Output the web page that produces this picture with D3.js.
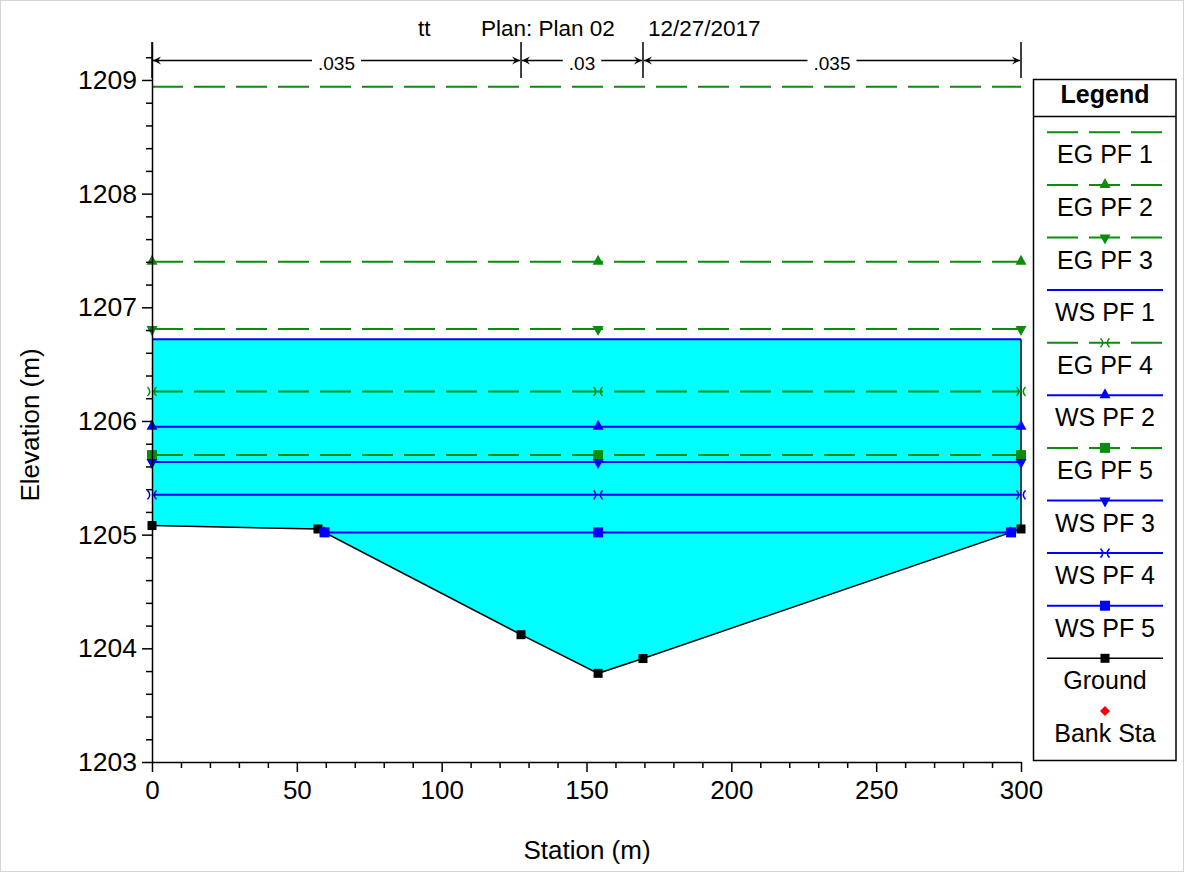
<!DOCTYPE html>
<html>
<head>
<meta charset="utf-8">
<script src="https://cdn.jsdelivr.net/npm/d3@7"></script>
<style>
  body { margin: 0; background: #fff; }
  svg text { font-family: Arial, "Liberation Sans", sans-serif; fill: #000; }
</style>
</head>
<body>
<div id="plotDiv"></div>
<script>
// chart data
const titleParts = ['tt', 'Plan: Plan 02', '12/27/2017'];
const profileNames = ['EG PF 1', 'EG PF 2', 'EG PF 3', 'WS PF 1', 'EG PF 4',
  'WS PF 2', 'EG PF 5', 'WS PF 3', 'WS PF 4', 'WS PF 5'];
const profileElev = [1208.94, 1207.40, 1206.81, 1206.72, 1206.26,
  1205.95, 1205.70, 1205.64, 1205.35, 1205.02];
const groundSta = [0, 57.3, 127.4, 154.0, 169.5, 300];
const groundElev = [1205.08, 1205.05, 1204.12, 1203.78, 1203.91, 1205.05];
const bankSta = [59.4, 296.3];
const bankElev = [1205.03, 1205.03];
const nBreaks = [0, 127.4, 169.5, 300];
const nValues = ['.035', '.03', '.035'];
const xTicks = [0, 50, 100, 150, 200, 250, 300];
const yTicks = [1203, 1204, 1205, 1206, 1207, 1208, 1209];

const markerFor = {
  'EG PF 1': null, 'EG PF 2': 'triUp', 'EG PF 3': 'triDown', 'WS PF 1': null,
  'EG PF 4': 'cross', 'WS PF 2': 'triUp', 'EG PF 5': 'square', 'WS PF 3': 'triDown',
  'WS PF 4': 'cross', 'WS PF 5': 'square'
};

class CrossSection {
  constructor() {
    this.svgWidth = 1192;
    this.svgHeight = 878;
    this.green = '#0c8c0c';
    this.blue = '#0000ff';
    this.dash = '31,11';

    this.xScale = d3.scaleLinear().domain([0, 300]).range([152, 1021]);
    this.yScale = d3.scaleLinear().domain([1203, 1209.334]).range([762, 42]);
    this.ground = groundSta.map((s, i) => [s, groundElev[i]]);
  }

  /**
   * Creates all the parts of the plot.
   */
  createView() {
    this.svg = d3.select('#plotDiv').append('svg')
      .attr('width', this.svgWidth)
      .attr('height', this.svgHeight);

    this.svg.append('rect')
      .attr('x', 0.5).attr('y', 0.5)
      .attr('width', 1183).attr('height', 871)
      .attr('fill', 'none')
      .attr('stroke', '#d4d4d4');

    this.createWater();
    this.createProfiles();
    this.createAxes();
    this.createManningBar();
    this.createTitle();
    this.createLegend();
  }

  /**
   * Left and right station where the water level meets the ground.
   */
  waterExtent(z) {
    let g = this.ground;
    let left = g[0][0];
    let right = g[g.length - 1][0];
    if (g[0][1] > z) {
      for (let i = 0; i < g.length - 1; i++) {
        if (g[i][1] > z && g[i + 1][1] <= z) {
          left = g[i][0] + (g[i][1] - z) / (g[i][1] - g[i + 1][1]) * (g[i + 1][0] - g[i][0]);
          break;
        }
      }
    }
    if (g[g.length - 1][1] > z) {
      for (let i = g.length - 1; i > 0; i--) {
        if (g[i][1] > z && g[i - 1][1] <= z) {
          right = g[i][0] - (g[i][1] - z) / (g[i][1] - g[i - 1][1]) * (g[i][0] - g[i - 1][0]);
          break;
        }
      }
    }
    return [left, right];
  }

  /**
   * Draws one marker symbol.
   */
  drawMarker(group, type, x, y, color) {
    if (!type) return;
    if (type === 'square') {
      group.append('rect')
        .attr('x', x - 5).attr('y', y - 5)
        .attr('width', 10).attr('height', 10)
        .attr('fill', color);
    } else if (type === 'triUp') {
      group.append('path')
        .attr('d', `M${x},${y - 7}L${x + 5.5},${y + 3}L${x - 5.5},${y + 3}Z`)
        .attr('fill', color);
    } else if (type === 'triDown') {
      group.append('path')
        .attr('d', `M${x},${y + 7}L${x + 5.5},${y - 3}L${x - 5.5},${y - 3}Z`)
        .attr('fill', color);
    } else if (type === 'cross') {
      group.append('path')
        .attr('d', `M${x - 4.5},${y - 4.5}Q${x},${y} ${x - 4.5},${y + 4.5}M${x + 4.5},${y - 4.5}Q${x},${y} ${x + 4.5},${y + 4.5}`)
        .attr('fill', 'none')
        .attr('stroke', color)
        .attr('stroke-width', 1.5);
    } else if (type === 'diamond') {
      group.append('path')
        .attr('d', `M${x},${y - 5}L${x + 5},${y}L${x},${y + 5}L${x - 5},${y}Z`)
        .attr('fill', color);
    } else if (type === 'groundSquare') {
      group.append('rect')
        .attr('x', x - 4.5).attr('y', y - 4.5)
        .attr('width', 9).attr('height', 9)
        .attr('fill', color);
    }
  }

  /**
   * Cyan water area under the first water surface and the ground line.
   */
  createWater() {
    let x = this.xScale, y = this.yScale;
    let wsIndex = profileNames.indexOf('WS PF 1');
    let z = profileElev[wsIndex];
    let [l, r] = this.waterExtent(z);

    let poly = [[l, z], [r, z]];
    this.ground.slice().reverse().forEach(p => {
      if (p[0] >= l && p[0] <= r && p[1] <= z) poly.push(p);
    });

    let group = this.svg.append('g').attr('id', 'waterGroup');
    group.append('path')
      .attr('d', d3.line().x(d => x(d[0])).y(d => y(d[1]))(poly) + 'Z')
      .attr('fill', '#00ffff');

    let gEnd = this.ground[this.ground.length - 1];
    group.append('line')
      .attr('x1', x(gEnd[0])).attr('x2', x(gEnd[0]))
      .attr('y1', y(z)).attr('y2', y(gEnd[1]))
      .attr('stroke', '#000')
      .attr('stroke-width', 1.5);

    // ground
    group.append('path')
      .attr('d', d3.line().x(d => x(d[0])).y(d => y(d[1]))(this.ground))
      .attr('fill', 'none')
      .attr('stroke', '#000')
      .attr('stroke-width', 1.5);

    this.ground.forEach(p => this.drawMarker(group, 'groundSquare', x(p[0]), y(p[1]), '#000'));

    bankSta.forEach((s, i) => this.drawMarker(group, 'diamond', x(s), y(bankElev[i]), '#ff0000'));
  }

  /**
   * Energy grade and water surface lines.
   */
  createProfiles() {
    let x = this.xScale, y = this.yScale;
    let group = this.svg.append('g').attr('id', 'profileGroup');
    let midSta = groundSta[groundElev.indexOf(d3.min(groundElev))];

    profileNames.forEach((name, i) => {
      let z = profileElev[i];
      let isEG = name.startsWith('EG');
      let color = isEG ? this.green : this.blue;
      let ext = isEG ? [0, 300] : this.waterExtent(z);

      group.append('line')
        .attr('x1', x(ext[0])).attr('x2', x(ext[1]))
        .attr('y1', y(z)).attr('y2', y(z))
        .attr('stroke', color)
        .attr('stroke-width', 2)
        .attr('stroke-dasharray', isEG ? this.dash : null);

      [ext[0], midSta, ext[1]].forEach(s => {
        this.drawMarker(group, markerFor[name], x(s), y(z), color);
      });
    });
  }

  /**
   * Creates the x and y axes with minor ticks and titles.
   */
  createAxes() {
    let x = this.xScale, y = this.yScale;

    let yMinor = d3.range(1203, 1209.3, 0.2).filter(v => Math.abs(v - Math.round(v)) > 0.01);
    let xMinor = d3.range(0, 301, 10).filter(v => v % 50 !== 0);

    this.svg.append('g')
      .attr('transform', 'translate(152,0)')
      .call(d3.axisLeft(y).tickValues(yMinor).tickSize(6).tickSizeOuter(0).tickFormat(''))
      .call(g => g.select('.domain').remove());

    let yAxis = this.svg.append('g')
      .attr('transform', 'translate(152,0)')
      .call(d3.axisLeft(y).tickValues(yTicks).tickSize(10).tickSizeOuter(0)
        .tickPadding(5).tickFormat(d3.format('d')));
    yAxis.selectAll('text').style('font-size', '26.5px');

    this.svg.append('g')
      .attr('transform', 'translate(0,762)')
      .call(d3.axisBottom(x).tickValues(xMinor).tickSize(6).tickSizeOuter(0).tickFormat(''))
      .call(g => g.select('.domain').remove());

    let xAxis = this.svg.append('g')
      .attr('transform', 'translate(0,762)')
      .call(d3.axisBottom(x).tickValues(xTicks).tickSize(10).tickSizeOuter(0).tickPadding(9));
    xAxis.selectAll('text').style('font-size', '26px');

    this.svg.selectAll('.domain, .tick line')
      .attr('stroke', '#000')
      .attr('stroke-width', 1.5);
    this.svg.selectAll('.tick text').attr('fill', '#000');

    this.svg.append('text')
      .attr('x', 587).attr('y', 859)
      .attr('text-anchor', 'middle')
      .style('font-size', '26px')
      .text('Station (m)');

    this.svg.append('text')
      .attr('transform', 'translate(39,425) rotate(-90)')
      .attr('text-anchor', 'middle')
      .style('font-size', '26px')
      .text('Elevation (m)');
  }

  /**
   * Manning's n dimension bar above the plot.
   */
  createManningBar() {
    let x = this.xScale;
    let group = this.svg.append('g').attr('id', 'manningGroup');
    let barY = 60.5;

    nBreaks.forEach(s => {
      group.append('line')
        .attr('x1', x(s)).attr('x2', x(s))
        .attr('y1', 42).attr('y2', 78)
        .attr('stroke', '#000')
        .attr('stroke-width', 1.5);
    });

    nValues.forEach((v, i) => {
      let x0 = x(nBreaks[i]) + 1, x1 = x(nBreaks[i + 1]) - 1;
      let mid = (x0 + x1) / 2;
      let label = group.append('text')
        .attr('x', mid).attr('y', 70)
        .attr('text-anchor', 'middle')
        .style('font-size', '19px')
        .text(v);
      let half = label.node().getComputedTextLength() / 2 + 6;

      group.append('line')
        .attr('x1', x0).attr('x2', mid - half)
        .attr('y1', barY).attr('y2', barY)
        .attr('stroke', '#000').attr('stroke-width', 1.5);
      group.append('line')
        .attr('x1', mid + half).attr('x2', x1)
        .attr('y1', barY).attr('y2', barY)
        .attr('stroke', '#000').attr('stroke-width', 1.5);

      group.append('path')
        .attr('d', `M${x0},${barY}L${x0 + 8},${barY - 4}L${x0 + 5},${barY}L${x0 + 8},${barY + 4}Z`)
        .attr('fill', '#000');
      group.append('path')
        .attr('d', `M${x1},${barY}L${x1 - 8},${barY - 4}L${x1 - 5},${barY}L${x1 - 8},${barY + 4}Z`)
        .attr('fill', '#000');
    });
  }

  /**
   * Title text at the top.
   */
  createTitle() {
    let starts = [418, 481, 648];
    this.svg.append('g')
      .selectAll('text')
      .data(titleParts)
      .enter()
      .append('text')
      .attr('x', (d, i) => starts[i])
      .attr('y', 36)
      .style('font-size', '22.5px')
      .text(d => d);
  }

  /**
   * Legend box on the right.
   */
  createLegend() {
    let group = this.svg.append('g').attr('id', 'legendGroup');
    let left = 1033.5, right = 1176, cx = 1105;

    group.append('rect')
      .attr('x', left).attr('y', 79.5)
      .attr('width', right - left).attr('height', 681)
      .attr('fill', '#fff')
      .attr('stroke', '#000')
      .attr('stroke-width', 1.5);
    group.append('line')
      .attr('x1', left).attr('x2', right)
      .attr('y1', 116.5).attr('y2', 116.5)
      .attr('stroke', '#000')
      .attr('stroke-width', 1.5);
    group.append('text')
      .attr('x', cx).attr('y', 103)
      .attr('text-anchor', 'middle')
      .style('font-size', '25px')
      .style('font-weight', 'bold')
      .text('Legend');

    let items = profileNames.concat(['Ground', 'Bank Sta']);
    items.forEach((name, i) => {
      let ly = 132.3 + 52.6 * i;
      if (name === 'Bank Sta') {
        this.drawMarker(group, 'diamond', cx, ly, '#ff0000');
      } else {
        let isGround = name === 'Ground';
        let isEG = name.startsWith('EG');
        let color = isGround ? '#000' : (isEG ? this.green : this.blue);
        group.append('line')
          .attr('x1', 1047).attr('x2', 1163)
          .attr('y1', ly).attr('y2', ly)
          .attr('stroke', color)
          .attr('stroke-width', isGround ? 1.5 : 2)
          .attr('stroke-dasharray', isEG ? this.dash : null);
        this.drawMarker(group, isGround ? 'groundSquare' : markerFor[name], cx, ly, color);
      }
      group.append('text')
        .attr('x', cx).attr('y', ly + 31)
        .attr('text-anchor', 'middle')
        .style('font-size', '25px')
        .text(name);
    });
  }
}

let plot = new CrossSection();
plot.createView();
</script>
</body>
</html>
